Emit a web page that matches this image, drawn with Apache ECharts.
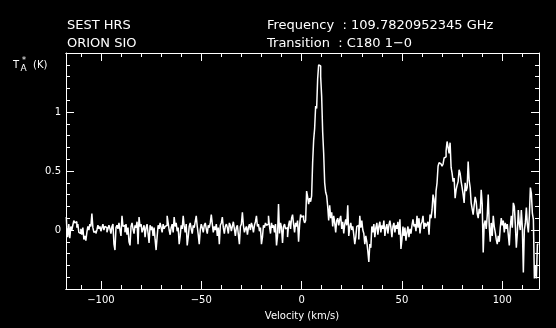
<!DOCTYPE html>
<html>
<head>
<meta charset="utf-8">
<script src="https://cdn.jsdelivr.net/npm/echarts@6/dist/echarts.min.js"></script>
<style>
  html, body { margin: 0; padding: 0; background: #000; }
  #chart { width: 556px; height: 328px; }
</style>
</head>
<body>
<div id="chart"></div>
<script>
// Spectrometer channel grid (km/s)
const V_START = -117.25;
const V_STEP = 0.5;

// Antenna temperature T*A (K), one value per channel, 10 km/s per row
const TA = [
  0.11, 0.02, -0.06, 0.05, -0.07, 0.03, 0.00, 0.04, 0.08, 0.06, 0.07, 0.02, 0.05, -0.02, -0.03, 0.01, -0.04, 0.02, -0.08, -0.05,
  -0.09, -0.02, 0.03, 0.00, 0.05, 0.03, 0.14, 0.02, -0.02, -0.01, -0.03, 0.00, 0.04, 0.01, 0.03, -0.01, 0.02, 0.05, 0.00, 0.03,
  0.02, -0.02, 0.01, 0.04, 0.01, -0.03, 0.03, 0.05, -0.12, -0.17, 0.02, 0.04, 0.01, 0.06, 0.00, -0.05, 0.12, 0.03, 0.04, -0.02,
  0.05, -0.04, 0.02, -0.10, -0.13, 0.03, 0.06, 0.01, -0.03, 0.04, 0.02, 0.07, -0.12, 0.11, 0.03, 0.05, -0.02, 0.01, 0.04, -0.06,
  0.02, 0.05, -0.03, -0.11, 0.04, 0.00, 0.03, -0.05, 0.02, -0.08, -0.17, -0.06, 0.04, 0.01, 0.06, 0.02, -0.02, 0.05, 0.01, 0.03,
  0.04, 0.12, 0.06, 0.00, -0.04, 0.02, 0.05, -0.02, 0.11, 0.03, 0.06, -0.01, 0.02, -0.12, -0.05, 0.04, 0.01, 0.12, 0.03, -0.02,
  0.05, -0.13, -0.06, 0.03, 0.06, 0.01, -0.03, 0.04, 0.02, 0.07, 0.12, 0.03, -0.04, -0.12, 0.00, 0.05, 0.02, -0.02, 0.04, 0.06,
  0.01, -0.03, 0.04, 0.02, 0.06, 0.13, 0.05, -0.02, 0.03, 0.00, 0.05, -0.05, 0.02, -0.12, 0.04, 0.06, 0.11, 0.02, -0.03, 0.03,
  0.05, 0.02, -0.03, 0.06, 0.04, -0.01, 0.03, 0.07, 0.01, -0.05, 0.02, 0.04, -0.04, -0.12, 0.03, 0.05, 0.15, 0.04, -0.02, 0.01,
  0.03, -0.04, 0.02, 0.05, 0.00, 0.06, 0.03, -0.02, 0.04, 0.07, 0.12, 0.03, 0.05, -0.01, 0.02, -0.12, -0.06, 0.04, 0.02, 0.06,
  0.04, 0.05, 0.12, 0.03, -0.03, 0.06, 0.02, 0.04, -0.02, 0.05, -0.13, -0.05, 0.22, -0.03, 0.06, 0.02, -0.11, 0.03, 0.05, 0.01,
  0.02, -0.06, 0.04, 0.08, 0.01, 0.10, 0.13, 0.05, -0.02, 0.06, 0.03, 0.08, -0.10, 0.04, 0.13, 0.11, 0.12, 0.09, 0.06, 0.08,
  0.33, 0.28, 0.22, 0.27, 0.24, 0.29, 0.57, 0.76, 0.86, 1.05, 1.03, 1.28, 1.40, 1.39, 1.30, 1.13, 0.83, 0.65, 0.40, 0.32,
  0.29, 0.20, 0.08, 0.21, 0.10, 0.15, 0.03, 0.12, 0.06, -0.02, 0.08, 0.10, 0.04, 0.09, 0.12, 0.01, 0.07, -0.03, 0.05, 0.09,
  0.04, 0.21, -0.05, 0.02, 0.06, 0.00, 0.03, -0.04, -0.12, -0.06, 0.03, 0.04, -0.08, 0.12, 0.02, 0.08, 0.00, -0.03, -0.12, -0.05,
  -0.10, -0.18, -0.27, -0.12, -0.15, 0.03, -0.02, 0.05, -0.06, 0.02, 0.06, -0.04, 0.03, 0.07, -0.02, 0.04, 0.01, 0.08, -0.05, 0.02,
  0.05, -0.03, 0.04, 0.08, 0.02, -0.06, 0.03, 0.06, -0.02, 0.04, 0.01, 0.07, -0.04, 0.09, -0.16, -0.08, 0.03, -0.05, 0.02, -0.09,
  -0.02, 0.03, -0.06, 0.01, -0.03, 0.04, 0.09, 0.03, 0.05, -0.01, 0.12, 0.02, 0.10, -0.03, 0.05, 0.07, 0.12, 0.01, 0.06, 0.03,
  0.05, 0.07, -0.04, 0.13, 0.10, 0.17, 0.30, 0.26, 0.10, 0.33, 0.40, 0.54, 0.57, 0.56, 0.57, 0.54, 0.56, 0.61, 0.62, 0.67,
  0.75, 0.70, 0.65, 0.74, 0.53, 0.48, 0.41, 0.44, 0.27, 0.34, 0.38, 0.41, 0.51, 0.48, 0.41, 0.36, 0.30, 0.23, 0.40, 0.33,
  0.36, 0.58, 0.42, 0.36, 0.23, 0.18, 0.13, 0.21, 0.28, 0.24, 0.14, 0.10, 0.18, 0.14, 0.34, 0.22, -0.19, 0.05, 0.08, 0.01,
  0.12, 0.30, 0.04, -0.10, 0.06, -0.05, 0.12, 0.03, -0.02, -0.08, -0.12, -0.05, -0.10, 0.02, 0.10, 0.04, 0.08, -0.02, 0.06, 0.01,
  0.05, -0.04, -0.13, 0.03, 0.12, 0.02, 0.23, 0.20, 0.05, -0.15, -0.03, 0.17, 0.05, 0.00, 0.17, 0.02, -0.36, 0.00, 0.06, 0.19,
  0.05, -0.02, 0.12, 0.36, 0.31, 0.14, 0.09, -0.41, -0.30, -0.41, -0.12, -0.12
];

// Axis ranges and ticks
const X_MIN = -117.4, X_MAX = 118.3;
const Y_MIN = -0.5, Y_MAX = 1.5;
const X_MAJOR = [-100, -50, 0, 50, 100];
const X_MINOR = [-110, -90, -80, -70, -60, -40, -30, -20, -10, 10, 20, 30, 40, 60, 70, 80, 90, 110];
const Y_LABELS = [0, 0.5, 1];

// Header text
const HEADER_LEFT = ['SEST HRS', 'ORION SIO'];
const HEADER_RIGHT = ['Frequency  : 109.7820952345 GHz', 'Transition  : C180 1\u22120'];
const X_TITLE = 'Velocity (km/s)';

const FONT = 'DejaVu Sans';
const WHITE = '#ffffff';

const spectrum = TA.map((t, i) => [V_START + i * V_STEP, t]);

const line = { show: true, onZero: false, lineStyle: { color: WHITE, width: 1 } };

function xAxis(position, ticks, len, labels) {
  return {
    type: 'value', position, min: X_MIN, max: X_MAX,
    axisLine: line,
    axisTick: { show: true, inside: true, length: len, customValues: ticks, lineStyle: { color: WHITE, width: 1 } },
    axisLabel: labels
      ? { show: true, customValues: X_MAJOR, color: WHITE, fontFamily: FONT, fontSize: 10, margin: 6,
          formatter: v => (v < 0 ? '\u2212' + Math.abs(v) : String(v)) }
      : { show: false },
    splitLine: { show: false }
  };
}

function yAxis(position, labels) {
  return {
    type: 'value', position, min: Y_MIN, max: Y_MAX, interval: 0.5,
    axisLine: line,
    axisTick: { show: true, inside: true, length: 8, lineStyle: { color: WHITE, width: 1 } },
    minorTick: { show: true, splitNumber: 5, length: 4, lineStyle: { color: WHITE, width: 1 } },
    axisLabel: labels
      ? { show: true, customValues: Y_LABELS, color: WHITE, fontFamily: FONT, fontSize: 10, margin: 5 }
      : { show: false },
    splitLine: { show: false },
    minorSplitLine: { show: false }
  };
}

function txt(text, x, y, size, align) {
  return {
    type: 'text', x, y, silent: true,
    style: { text, fill: WHITE, font: size + 'px "' + FONT + '"', textAlign: align || 'left', textVerticalAlign: 'middle' }
  };
}

const chart = echarts.init(document.getElementById('chart'), null, { renderer: 'canvas' });
chart.setOption({
  backgroundColor: '#000000',
  animation: false,
  grid: { left: 66, right: 17, top: 53, bottom: 39, containLabel: false, outerBoundsMode: 'none' },
  xAxis: [
    xAxis('bottom', X_MAJOR, 8, true),
    xAxis('bottom', X_MINOR, 4, false),
    xAxis('top', X_MAJOR, 8, false),
    xAxis('top', X_MINOR, 4, false)
  ],
  yAxis: [yAxis('left', true), yAxis('right', false)],
  graphic: [
    txt(HEADER_LEFT[0], 67, 26, 13),
    txt(HEADER_LEFT[1], 67, 44, 13),
    txt(HEADER_RIGHT[0], 267, 26, 13),
    txt(HEADER_RIGHT[1], 267, 44, 13),
    txt(X_TITLE, 302, 316, 10, 'center'),
    // y-axis title T*A (K)
    txt('T', 13, 65, 10),
    txt('A', 20.5, 69, 9),
    txt('*', 22, 61, 8),
    txt('(K)', 33, 65, 10)
  ],
  series: [{
    type: 'line',
    xAxisIndex: 0, yAxisIndex: 0,
    data: spectrum,
    step: 'middle',
    symbol: 'none',
    clip: true,
    lineStyle: { color: WHITE, width: 1.5 }
  }]
});
</script>
</body>
</html>
